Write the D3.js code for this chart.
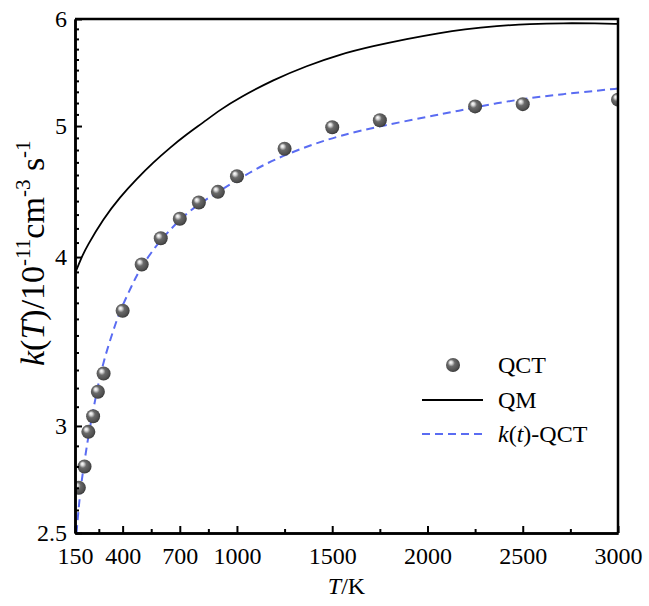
<!DOCTYPE html>
<html>
<head>
<meta charset="utf-8">
<script src="https://cdn.jsdelivr.net/npm/d3@7"></script>
<style>
    body { margin: 0; background: #fff; }
    svg { display: block; }
</style>
</head>
<body>
<svg id="graph_svg"></svg>
<script>
// QCT rate constants (points)
const qctT = [170, 200, 220, 245, 270, 300, 400, 500, 600, 700, 800, 900, 1000, 1250, 1500, 1750, 2250, 2500, 3000];
const qctK = [2.70, 2.80, 2.97, 3.05, 3.18, 3.28, 3.65, 3.95, 4.13, 4.27, 4.39, 4.47, 4.59, 4.81, 4.99, 5.05, 5.17, 5.19, 5.23];

// QM curve (solid black)
const qmT = [150, 185, 211, 299, 386, 474, 561, 649, 736, 823, 911, 1016, 1191, 1366, 1541, 1716, 1891, 2066, 2188, 2364, 2538, 2713, 2889, 3000];
const qmK = [3.89, 4.00, 4.07, 4.27, 4.43, 4.57, 4.70, 4.82, 4.93, 5.03, 5.14, 5.25, 5.41, 5.54, 5.65, 5.73, 5.80, 5.86, 5.895, 5.93, 5.95, 5.958, 5.955, 5.95];

// k(t)-QCT curve (blue dashed)
const fitT = [158, 176, 202, 229, 264, 299, 351, 386, 448, 491, 570, 649, 727, 823, 911, 1033, 1174, 1366, 1541, 1751, 2066, 2188, 2364, 2538, 2713, 2889, 3000];
const fitK = [2.50, 2.68, 2.84, 3.00, 3.18, 3.35, 3.53, 3.65, 3.81, 3.92, 4.07, 4.19, 4.30, 4.40, 4.48, 4.59, 4.71, 4.83, 4.92, 5.00, 5.10, 5.14, 5.20, 5.245, 5.28, 5.31, 5.33];

// ticks
const xTicks = [150, 400, 700, 1000, 1500, 2000, 2500, 3000];
const xMinor = [275, 550, 850, 1250, 1750, 2250, 2750];
const yTicks = [2.5, 3, 4, 5, 6];
const yMinor = [2.6, 2.7, 2.8, 2.9, 3.1, 3.2, 3.3, 3.4, 3.5, 3.6, 3.7, 3.8, 3.9,
                4.1, 4.2, 4.3, 4.4, 4.5, 4.6, 4.7, 4.8, 4.9, 5.1, 5.2, 5.3, 5.4, 5.5, 5.6, 5.7, 5.8, 5.9];

const legendLabels = ["QCT", "QM", "k(t)-QCT"];

const width = 649, height = 606;
const plotLeft = 75, plotRight = 618, plotTop = 19, plotBottom = 533;
const font = "'Liberation Serif', 'Times New Roman', serif";
const blue = "#5a6cf2";

let svg = d3.select("#graph_svg")
    .attr("width", width)
    .attr("height", height)
    .style("font-family", font);

const scaleX = d3.scaleLinear().domain([150, 3000]).range([plotLeft, plotRight]);
const scaleY = d3.scaleLog().domain([2.5, 6]).range([plotBottom, plotTop]);

// ball gradient
const defs = svg.append("defs");
const grad = defs.append("radialGradient")
    .attr("id", "ball")
    .attr("cx", "0.45").attr("cy", "0.45").attr("r", "0.6")
    .attr("fx", "0.33").attr("fy", "0.3");
grad.append("stop").attr("offset", "0").attr("stop-color", "#ffffff");
grad.append("stop").attr("offset", "0.18").attr("stop-color", "#d8d8d8");
grad.append("stop").attr("offset", "0.42").attr("stop-color", "#6a6a6a");
grad.append("stop").attr("offset", "0.8").attr("stop-color", "#4e4e4e");
grad.append("stop").attr("offset", "1").attr("stop-color", "#2c2c2c");

defs.append("clipPath").attr("id", "plotClip")
    .append("rect")
    .attr("x", plotLeft).attr("y", plotTop)
    .attr("width", plotRight - plotLeft).attr("height", plotBottom - plotTop);

const plot = svg.append("g").attr("clip-path", "url(#plotClip)");

const qmData = qmT.map((t, i) => [t, qmK[i]]);
const fitData = fitT.map((t, i) => [t, fitK[i]]);

const line = d3.line()
    .x(d => scaleX(d[0]))
    .y(d => scaleY(d[1]))
    .curve(d3.curveBasis);

// QM line
plot.append("path")
    .datum(qmData)
    .attr("d", line)
    .attr("fill", "none")
    .attr("stroke", "#000")
    .attr("stroke-width", 1.8);

// k(t)-QCT dashed line
plot.append("path")
    .datum(fitData)
    .attr("d", line)
    .attr("fill", "none")
    .attr("stroke", blue)
    .attr("stroke-width", 2)
    .attr("stroke-dasharray", "8,5");

// QCT balls
plot.selectAll(".dot")
    .data(qctT.map((t, i) => [t, qctK[i]]))
    .enter()
    .append("circle")
    .attr("class", "dot")
    .attr("r", 7)
    .attr("cx", d => scaleX(d[0]))
    .attr("cy", d => scaleY(d[1]))
    .attr("fill", "url(#ball)");

// axes
function styleAxis(g, size) {
    g.attr("font-family", font).attr("font-size", size);
    g.selectAll("text").attr("fill", "#000");
    g.selectAll(".tick line").attr("stroke", "#000").attr("stroke-width", 2);
    g.select(".domain").attr("stroke", "#000").attr("stroke-width", 2.5);
}

svg.append("g")
    .attr("transform", `translate(0, ${plotBottom})`)
    .call(d3.axisBottom(scaleX).tickValues(xMinor).tickSize(-4).tickSizeOuter(0).tickFormat(""))
    .call(g => styleAxis(g, 24));

svg.append("g")
    .attr("transform", `translate(0, ${plotBottom})`)
    .call(d3.axisBottom(scaleX).tickValues(xTicks).tickSize(-7).tickSizeOuter(0).tickPadding(14).tickFormat(d3.format("d")))
    .call(g => styleAxis(g, 24));

svg.append("g")
    .attr("transform", `translate(${plotLeft}, 0)`)
    .call(d3.axisLeft(scaleY).tickValues(yMinor).tickSize(-4).tickSizeOuter(0).tickFormat(""))
    .call(g => styleAxis(g, 24));

svg.append("g")
    .attr("transform", `translate(${plotLeft}, 0)`)
    .call(d3.axisLeft(scaleY).tickValues(yTicks).tickSize(-7).tickSizeOuter(0).tickPadding(8).tickFormat(d => String(d)))
    .call(g => styleAxis(g, 24));

// top and right border
svg.append("path")
    .attr("d", `M${plotLeft},${plotTop}H${plotRight}V${plotBottom}`)
    .attr("fill", "none")
    .attr("stroke", "#000")
    .attr("stroke-width", 2.5);

// axis titles
const xTitle = svg.append("text")
    .attr("x", (plotLeft + plotRight) / 2)
    .attr("y", 594)
    .attr("text-anchor", "middle")
    .attr("font-size", 24);
xTitle.append("tspan").attr("font-style", "italic").text("T");
xTitle.append("tspan").text("/K");

// y title: starts low, reads upward
const yTitle = svg.append("text")
    .attr("transform", "translate(44, 366) rotate(-90)")
    .attr("text-anchor", "start")
    .attr("font-size", 34);
yTitle.append("tspan").attr("font-style", "italic").text("k");
yTitle.append("tspan").text("(");
yTitle.append("tspan").attr("font-style", "italic").text("T");
yTitle.append("tspan").text(")/10");
yTitle.append("tspan").attr("font-size", 21).attr("dy", -14).text("-11");
yTitle.append("tspan").attr("dy", 14).text("cm");
yTitle.append("tspan").attr("font-size", 21).attr("dy", -14).text("-3");
yTitle.append("tspan").attr("dy", 14).text(" s");
yTitle.append("tspan").attr("font-size", 21).attr("dy", -14).text("-1");

// legend
const legend = svg.append("g").attr("font-size", 24);
const rowY = [365, 400, 434];

legend.append("circle")
    .attr("cx", 453).attr("cy", rowY[0]).attr("r", 7)
    .attr("fill", "url(#ball)");
legend.append("line")
    .attr("x1", 422).attr("x2", 483).attr("y1", rowY[1]).attr("y2", rowY[1])
    .attr("stroke", "#000").attr("stroke-width", 1.8);
legend.append("line")
    .attr("x1", 422).attr("x2", 483).attr("y1", rowY[2]).attr("y2", rowY[2])
    .attr("stroke", blue).attr("stroke-width", 2).attr("stroke-dasharray", "8,5");

legend.append("text").attr("x", 498).attr("y", rowY[0] + 8).text(legendLabels[0]);
legend.append("text").attr("x", 498).attr("y", rowY[1] + 8).text(legendLabels[1]);
const l3 = legend.append("text").attr("x", 498).attr("y", rowY[2] + 8);
l3.append("tspan").attr("font-style", "italic").text("k");
l3.append("tspan").text("(");
l3.append("tspan").attr("font-style", "italic").text("t");
l3.append("tspan").text(")-QCT");
</script>
</body>
</html>
